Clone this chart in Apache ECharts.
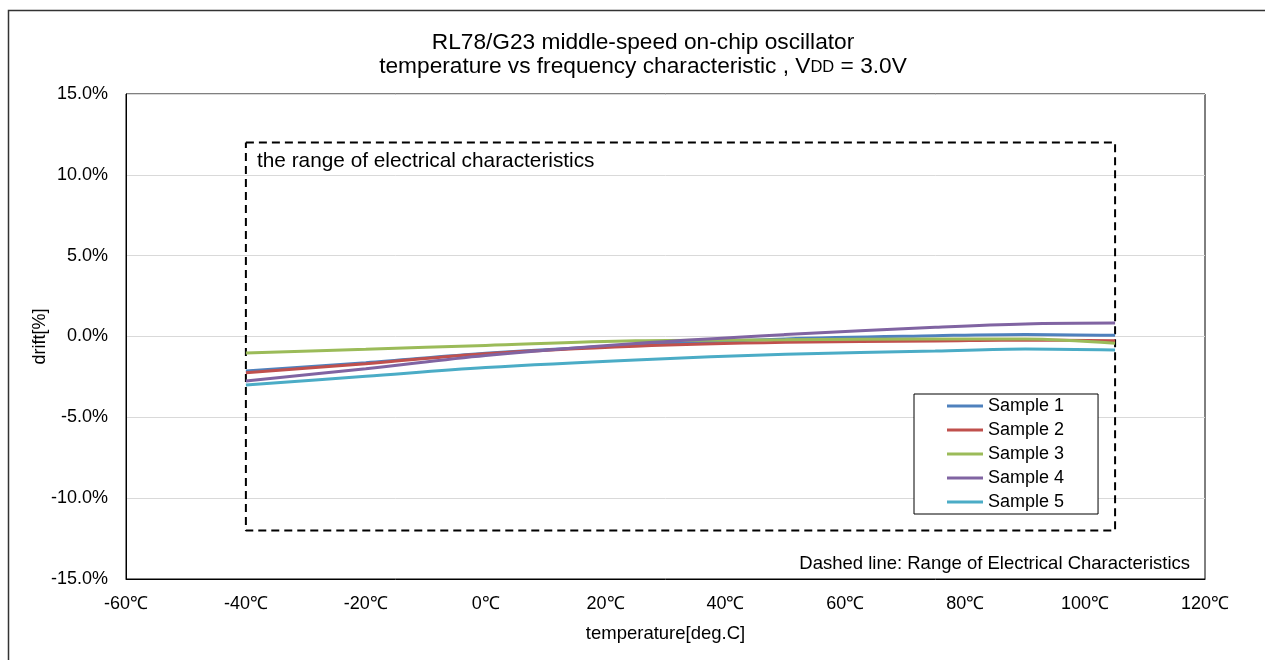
<!DOCTYPE html>
<html>
<head>
<meta charset="utf-8">
<script src="https://cdn.jsdelivr.net/npm/echarts@6/dist/echarts.min.js"></script>
<style>
html,body{margin:0;padding:0;background:#fff;}
#chart{width:1265px;height:660px;}
</style>
</head>
<body>
<div id="chart"></div>
<script>
const temps = [-40, -20, 0, 25, 50, 75, 90, 105];
const sample1 = [-2.13, -1.62, -1.03, -0.52, -0.15, 0.05, 0.13, 0.07];
const sample2 = [-2.24, -1.68, -1.06, -0.60, -0.36, -0.28, -0.22, -0.26];
const sample3 = [-1.02, -0.79, -0.55, -0.27, -0.20, -0.15, -0.16, -0.42];
const sample4 = [-2.75, -1.99, -1.17, -0.43, 0.12, 0.57, 0.78, 0.83];
const sample5 = [-3.00, -2.46, -1.92, -1.45, -1.10, -0.90, -0.77, -0.83];
const seriesNames = ['Sample 1', 'Sample 2', 'Sample 3', 'Sample 4', 'Sample 5'];
const seriesColors = ['#4F81BD', '#C0504D', '#9BBB59', '#8064A2', '#4BACC6'];
const rangeTemp = [-40, 105];
const rangeDrift = [-12, 12];
const yTicks = [-15, -10, -5, 0, 5, 10, 15];
const xTicks = [-60, -40, -20, 0, 20, 40, 60, 80, 100, 120];

const allValues = [sample1, sample2, sample3, sample4, sample5];
const FONT = 'Liberation Sans, Arial, sans-serif';

const chart = echarts.init(document.getElementById('chart'), null, {renderer: 'canvas'});

const lineSeries = allValues.map((vals, i) => ({
  name: seriesNames[i],
  type: 'line',
  data: temps.map((t, j) => [t, vals[j]]),
  showSymbol: false,
  smooth: 0.35,
  lineStyle: {width: 3, color: seriesColors[i]},
  itemStyle: {color: seriesColors[i]},
  z: 3
}));

const rangeRect = [
  [rangeTemp[0], rangeDrift[1]],
  [rangeTemp[1], rangeDrift[1]],
  [rangeTemp[1], rangeDrift[0]],
  [rangeTemp[0], rangeDrift[0]],
  [rangeTemp[0], rangeDrift[1]]
];

const option = {
  animation: false,
  backgroundColor: '#fff',
  textStyle: {fontFamily: FONT, color: '#000'},
  title: {
    text: 'RL78/G23 middle-speed on-chip oscillator\ntemperature vs frequency characteristic , V{s|DD} = 3.0V',
    left: 638,
    top: 26,
    textAlign: 'center',
    textStyle: {
      fontFamily: FONT,
      fontSize: 22.7,
      fontWeight: 'normal',
      color: '#000',
      lineHeight: 24,
      rich: {
        s: {fontFamily: FONT, fontSize: 16.5, color: '#000', lineHeight: 24}
      }
    }
  },
  grid: {
    left: 126, right: 60, top: 94, bottom: 81,
    show: true, borderColor: '#000', borderWidth: 1,
    containLabel: false
  },
  legend: {
    data: seriesNames,
    orient: 'vertical',
    left: 914,
    top: 394,
    icon: 'rect',
    itemWidth: 36,
    itemHeight: 3,
    itemGap: 6,
    padding: [3, 34, 3, 33],
    borderColor: '#000',
    borderWidth: 1,
    backgroundColor: '#fff',
    textStyle: {fontFamily: FONT, fontSize: 18, color: '#000'}
  },
  xAxis: {
    type: 'value',
    min: xTicks[0],
    max: xTicks[xTicks.length - 1],
    interval: 20,
    name: 'temperature[deg.C]',
    nameLocation: 'middle',
    nameGap: 45,
    nameMoveOverlap: false,
    nameTextStyle: {fontFamily: FONT, fontSize: 18.5, color: '#000'},
    axisLine: {show: true, onZero: false, lineStyle: {color: '#000', width: 1}},
    axisTick: {show: false},
    splitLine: {show: false},
    axisLabel: {
      fontFamily: FONT, fontSize: 18, color: '#000', margin: 16,
      formatter: v => v + '℃'
    }
  },
  yAxis: {
    type: 'value',
    min: yTicks[0],
    max: yTicks[yTicks.length - 1],
    interval: 5,
    name: 'drift[%]',
    nameLocation: 'middle',
    nameGap: 77,
    nameMoveOverlap: false,
    nameTextStyle: {fontFamily: FONT, fontSize: 18, color: '#000'},
    axisLine: {show: true, onZero: false, lineStyle: {color: '#000', width: 1}},
    axisTick: {show: false},
    splitLine: {show: true, lineStyle: {color: '#d9d9d9', width: 1}},
    axisLabel: {
      fontFamily: FONT, fontSize: 18, color: '#000', margin: 18,
      formatter: v => v.toFixed(1) + '%'
    }
  },
  series: [
    {
      name: 'range',
      type: 'line',
      data: rangeRect,
      showSymbol: false,
      silent: true,
      lineStyle: {width: 2, color: '#000', type: [8, 5]},
      z: 2
    },
    ...lineSeries
  ],
  graphic: [
    {
      type: 'rect',
      silent: true,
      shape: {x: 8.5, y: 10.5, width: 1400, height: 800},
      style: {fill: 'none', stroke: '#333', lineWidth: 1.5},
      z: 100
    },
    {
      type: 'text',
      left: 257,
      top: 151,
      silent: true,
      style: {text: 'the range of electrical characteristics', font: '20.8px ' + FONT, fill: '#000'}
    },
    {
      type: 'text',
      right: 75,
      top: 554,
      silent: true,
      style: {text: 'Dashed line: Range of Electrical Characteristics', font: '18.5px ' + FONT, fill: '#000'}
    }
  ]
};

chart.setOption(option);
</script>
</body>
</html>
